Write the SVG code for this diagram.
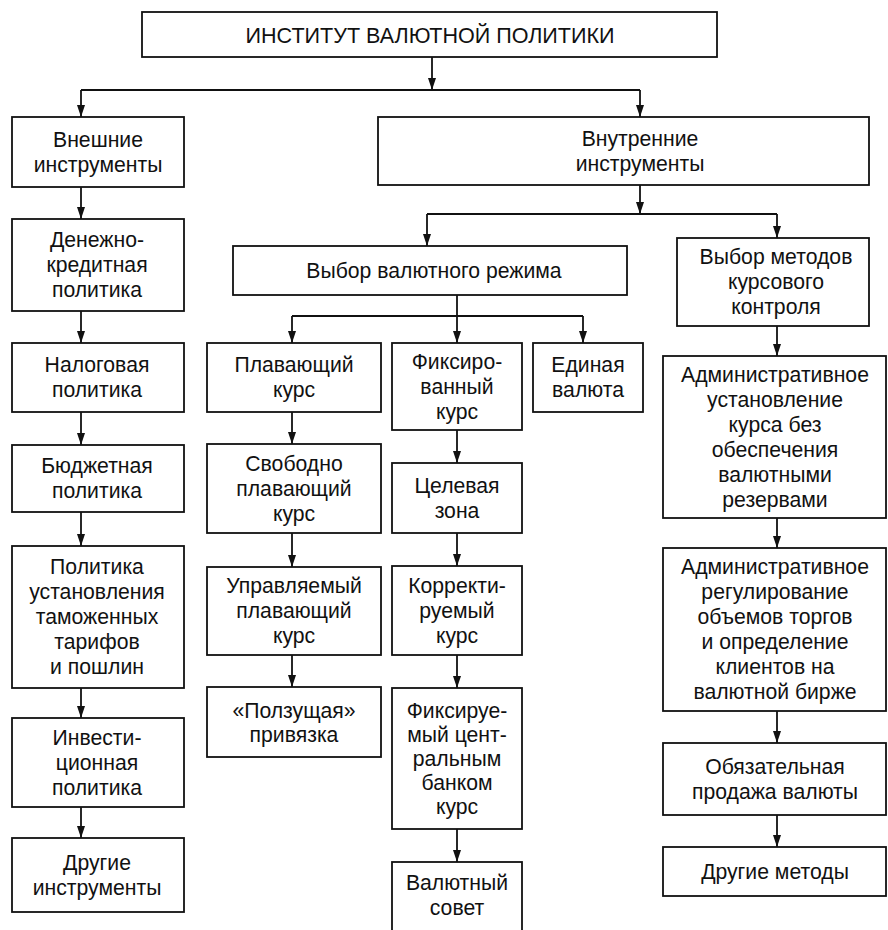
<svg xmlns="http://www.w3.org/2000/svg" width="888" height="930" viewBox="0 0 888 930">
<style>
.box{fill:#fff;stroke:#111;stroke-width:1.8}
.t{font-family:"Liberation Sans",Arial,sans-serif;font-size:21.2px;fill:#111;text-anchor:middle}
.title{font-family:"Liberation Sans",Arial,sans-serif;font-size:22px;fill:#111;text-anchor:middle}
.c{fill:none;stroke:#111;stroke-width:1.8}
</style>
<defs>
<marker id="ah" markerUnits="userSpaceOnUse" markerWidth="12" markerHeight="8" refX="12" refY="4" orient="auto" viewBox="0 0 12 8">
<path d="M0,0 L12,4 L0,8 z" fill="#111"/>
</marker>
</defs>
<rect width="888" height="930" fill="#fff"/>

<g id="connectors">
<path class="c" d="M432,57 V90" marker-end="url(#ah)"/>
<path class="c" d="M81,90 H640"/>
<path class="c" d="M81,90 V117" marker-end="url(#ah)"/>
<path class="c" d="M640,90 V117" marker-end="url(#ah)"/>
<path class="c" d="M640,185 V214" marker-end="url(#ah)"/>
<path class="c" d="M427,214 H777"/>
<path class="c" d="M427,214 V246" marker-end="url(#ah)"/>
<path class="c" d="M777,214 V238" marker-end="url(#ah)"/>
<path class="c" d="M457,295 V343" marker-end="url(#ah)"/>
<path class="c" d="M292,316 H583"/>
<path class="c" d="M292,316 V343" marker-end="url(#ah)"/>
<path class="c" d="M583,316 V343" marker-end="url(#ah)"/>
<path class="c" d="M81,187 V219" marker-end="url(#ah)"/>
<path class="c" d="M81,311 V343" marker-end="url(#ah)"/>
<path class="c" d="M81,412 V445" marker-end="url(#ah)"/>
<path class="c" d="M81,512 V546" marker-end="url(#ah)"/>
<path class="c" d="M81,688 V718" marker-end="url(#ah)"/>
<path class="c" d="M81,807 V838" marker-end="url(#ah)"/>
<path class="c" d="M292,412 V444" marker-end="url(#ah)"/>
<path class="c" d="M292,533 V567" marker-end="url(#ah)"/>
<path class="c" d="M292,655 V687" marker-end="url(#ah)"/>
<path class="c" d="M457,430 V463" marker-end="url(#ah)"/>
<path class="c" d="M457,533 V566" marker-end="url(#ah)"/>
<path class="c" d="M457,655 V688" marker-end="url(#ah)"/>
<path class="c" d="M457,829 V862" marker-end="url(#ah)"/>
<path class="c" d="M777,326 V356" marker-end="url(#ah)"/>
<path class="c" d="M777,518 V548" marker-end="url(#ah)"/>
<path class="c" d="M777,711 V743" marker-end="url(#ah)"/>
<path class="c" d="M777,815 V847" marker-end="url(#ah)"/>
</g>

<g id="n-institut">
<rect class="box" x="142" y="12" width="575" height="45"/>
<text class="title" x="430" y="42.5" textLength="369" lengthAdjust="spacingAndGlyphs">ИНСТИТУТ ВАЛЮТНОЙ ПОЛИТИКИ</text>
</g>

<g id="n-vneshnie">
<rect class="box" x="12" y="117" width="172" height="70"/>
<text class="t"><tspan x="98" y="146.5">Внешние</tspan><tspan x="98" y="171.5">инструменты</tspan></text>
</g>

<g id="n-vnutrennie">
<rect class="box" x="378" y="117" width="491" height="68"/>
<text class="t"><tspan x="640" y="145.5">Внутренние</tspan><tspan x="640" y="170.5">инструменты</tspan></text>
</g>

<g id="n-denezhno">
<rect class="box" x="12" y="219" width="172" height="92"/>
<text class="t"><tspan x="97" y="247">Денежно-</tspan><tspan x="97" y="272">кредитная</tspan><tspan x="97" y="297">политика</tspan></text>
</g>

<g id="n-nalog">
<rect class="box" x="12" y="343" width="172" height="69"/>
<text class="t"><tspan x="97" y="372">Налоговая</tspan><tspan x="97" y="397">политика</tspan></text>
</g>

<g id="n-budget">
<rect class="box" x="12" y="445" width="172" height="67"/>
<text class="t"><tspan x="97" y="473">Бюджетная</tspan><tspan x="97" y="498">политика</tspan></text>
</g>

<g id="n-tamozh">
<rect class="box" x="12" y="546" width="172" height="142"/>
<text class="t"><tspan x="97" y="574">Политика</tspan><tspan x="97" y="599">установления</tspan><tspan x="97" y="624">таможенных</tspan><tspan x="97" y="649">тарифов</tspan><tspan x="97" y="674">и пошлин</tspan></text>
</g>

<g id="n-invest">
<rect class="box" x="12" y="718" width="172" height="89"/>
<text class="t"><tspan x="97" y="744.5">Инвести-</tspan><tspan x="97" y="769.5">ционная</tspan><tspan x="97" y="794.5">политика</tspan></text>
</g>

<g id="n-drugie-instr">
<rect class="box" x="12" y="838" width="172" height="74"/>
<text class="t"><tspan x="97" y="869.5">Другие</tspan><tspan x="97" y="894.5">инструменты</tspan></text>
</g>

<g id="n-vybor-rezhima">
<rect class="box" x="233" y="246" width="394" height="49"/>
<text class="t" x="434" y="277.5">Выбор валютного режима</text>
</g>

<g id="n-vybor-metodov">
<rect class="box" x="677" y="238" width="192" height="88"/>
<text class="t"><tspan x="776" y="264">Выбор методов</tspan><tspan x="776" y="289">курсового</tspan><tspan x="776" y="314">контроля</tspan></text>
</g>

<g id="n-plav">
<rect class="box" x="207" y="343" width="174" height="69"/>
<text class="t"><tspan x="294" y="372">Плавающий</tspan><tspan x="294" y="397">курс</tspan></text>
</g>

<g id="n-svobodno">
<rect class="box" x="207" y="444" width="174" height="89"/>
<text class="t"><tspan x="294" y="470.5">Свободно</tspan><tspan x="294" y="495.5">плавающий</tspan><tspan x="294" y="520.5">курс</tspan></text>
</g>

<g id="n-upravl">
<rect class="box" x="207" y="567" width="174" height="88"/>
<text class="t"><tspan x="294" y="593">Управляемый</tspan><tspan x="294" y="618">плавающий</tspan><tspan x="294" y="643">курс</tspan></text>
</g>

<g id="n-polz">
<rect class="box" x="207" y="687" width="174" height="70"/>
<text class="t"><tspan x="294" y="718">«Ползущая»</tspan><tspan x="294" y="742">привязка</tspan></text>
</g>

<g id="n-fiks">
<rect class="box" x="392" y="343" width="130" height="87"/>
<text class="t"><tspan x="457" y="368.5">Фиксиро-</tspan><tspan x="457" y="393.5">ванный</tspan><tspan x="457" y="418.5">курс</tspan></text>
</g>

<g id="n-celevaya">
<rect class="box" x="392" y="463" width="130" height="70"/>
<text class="t"><tspan x="457" y="492.5">Целевая</tspan><tspan x="457" y="517.5">зона</tspan></text>
</g>

<g id="n-korr">
<rect class="box" x="392" y="566" width="130" height="89"/>
<text class="t"><tspan x="457" y="592.5">Корректи-</tspan><tspan x="457" y="617.5">руемый</tspan><tspan x="457" y="642.5">курс</tspan></text>
</g>

<g id="n-fiks-cb">
<rect class="box" x="392" y="688" width="130" height="141"/>
<text class="t"><tspan x="457" y="717.5">Фиксируе-</tspan><tspan x="457" y="741.5">мый цент-</tspan><tspan x="457" y="765.5">ральным</tspan><tspan x="457" y="789.5">банком</tspan><tspan x="457" y="813.5">курс</tspan></text>
</g>

<g id="n-sovet">
<rect class="box" x="392" y="862" width="130" height="75"/>
<text class="t"><tspan x="457" y="890">Валютный</tspan><tspan x="457" y="915">совет</tspan></text>
</g>

<g id="n-edinaya">
<rect class="box" x="533" y="343" width="110" height="69"/>
<text class="t"><tspan x="588" y="372">Единая</tspan><tspan x="588" y="397">валюта</tspan></text>
</g>

<g id="n-admin1">
<rect class="box" x="663" y="356" width="223" height="162"/>
<text class="t"><tspan x="775" y="381.5">Административное</tspan><tspan x="775" y="406.5">установление</tspan><tspan x="775" y="431.5">курса без</tspan><tspan x="775" y="456.5">обеспечения</tspan><tspan x="775" y="481.5">валютными</tspan><tspan x="775" y="506.5">резервами</tspan></text>
</g>

<g id="n-admin2">
<rect class="box" x="663" y="548" width="223" height="163"/>
<text class="t"><tspan x="775" y="574">Административное</tspan><tspan x="775" y="599">регулирование</tspan><tspan x="775" y="624">объемов торгов</tspan><tspan x="775" y="649">и определение</tspan><tspan x="775" y="674">клиентов на</tspan><tspan x="775" y="699">валютной бирже</tspan></text>
</g>

<g id="n-obyaz">
<rect class="box" x="663" y="743" width="223" height="72"/>
<text class="t"><tspan x="775" y="773.5">Обязательная</tspan><tspan x="775" y="798.5">продажа валюты</tspan></text>
</g>

<g id="n-drugie-metody">
<rect class="box" x="663" y="847" width="223" height="49"/>
<text class="t" x="775" y="878.5">Другие методы</text>
</g>
</svg>
